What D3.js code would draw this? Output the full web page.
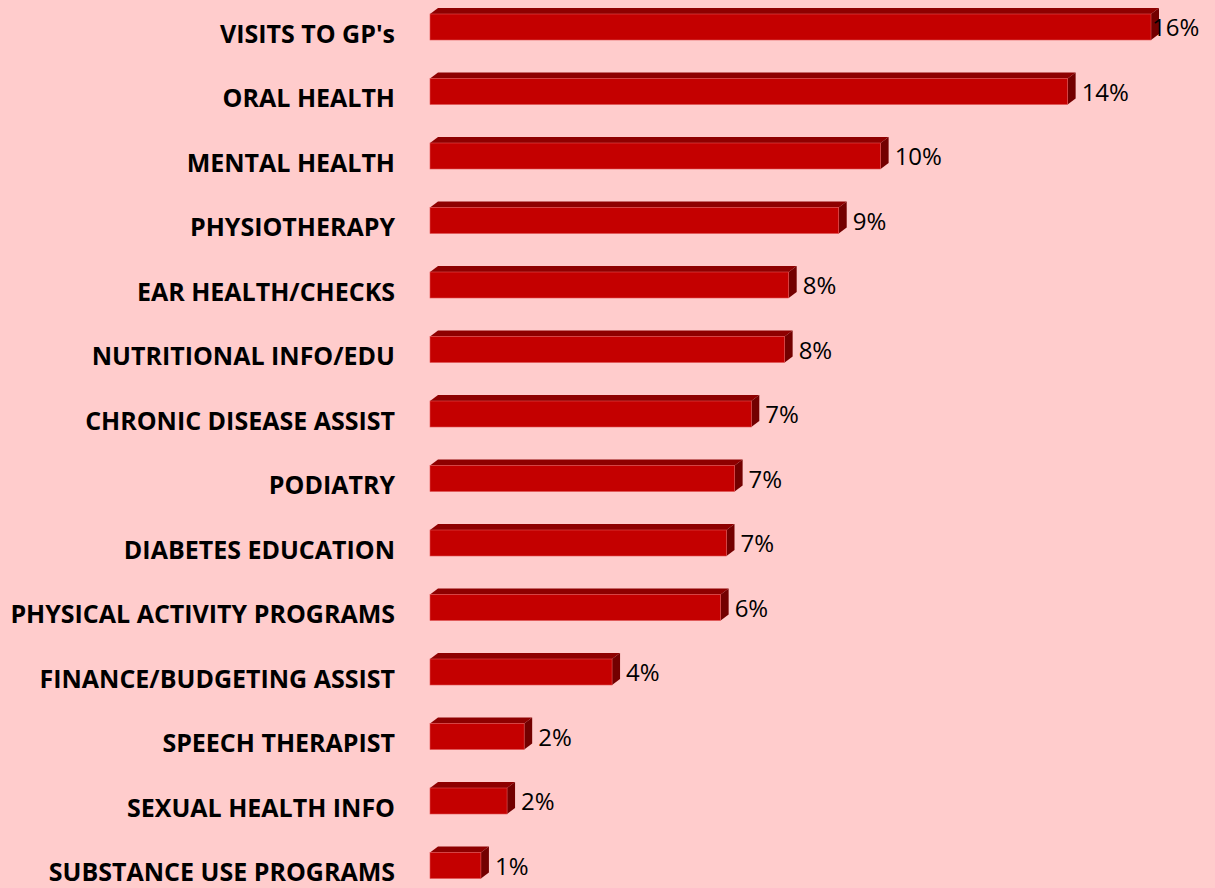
<!DOCTYPE html>
<html>
<head>
<meta charset="utf-8">
<script src="https://cdn.jsdelivr.net/npm/d3@7"></script>
<style>
	body { margin: 0; background: #FFCCCC; }
	svg { display: block; }
</style>
</head>
<body>
<script>
const width = 1215,
	height = 888;

const categories = [
	"VISITS TO GP's", "ORAL HEALTH", "MENTAL HEALTH", "PHYSIOTHERAPY",
	"EAR HEALTH/CHECKS", "NUTRITIONAL INFO/EDU", "CHRONIC DISEASE ASSIST",
	"PODIATRY", "DIABETES EDUCATION", "PHYSICAL ACTIVITY PROGRAMS",
	"FINANCE/BUDGETING ASSIST", "SPEECH THERAPIST", "SEXUAL HEALTH INFO",
	"SUBSTANCE USE PROGRAMS"
];
const values = [16.0, 14.15, 10.0, 9.07, 7.96, 7.87, 7.13, 6.76, 6.58, 6.45, 4.04, 2.09, 1.71, 1.13];

const depthX = 8, depthY = 6;

let svg = d3.select("body").append("svg")
	.attr("width", width)
	.attr("height", height);

svg.append("rect").attr("width", width).attr("height", height).attr("fill", "#FFCCCC");

let x = d3.scaleLinear().domain([0, 16]).range([430, 1151]);
let y = d3.scaleBand().domain(categories)
	.range([-5.25, 897.75])
	.paddingInner(1 - 26/64.5)
	.paddingOuter((1 - 26/64.5)/2);

let bh = y.bandwidth();

let g = svg.selectAll("g.bar")
	.data(categories.map((c, i) => ({c: c, v: values[i]})))
	.join("g").attr("class", "bar");

// top face
g.append("polygon")
	.attr("points", d => {
		const y0 = y(d.c), x0 = x(0), x1 = x(d.v);
		return [[x0, y0], [x0+depthX, y0-depthY], [x1+depthX, y0-depthY], [x1, y0]].join(" ");
	})
	.attr("fill", "#8E0000");

// side face
g.append("polygon")
	.attr("points", d => {
		const y0 = y(d.c), x1 = x(d.v);
		return [[x1, y0], [x1+depthX, y0-depthY], [x1+depthX, y0+bh-depthY], [x1, y0+bh]].join(" ");
	})
	.attr("fill", "#730000");

// front face
g.append("rect")
	.attr("x", x(0))
	.attr("y", d => y(d.c))
	.attr("width", d => x(d.v) - x(0))
	.attr("height", bh)
	.attr("fill", "#C40000")
	.attr("stroke", "#E05050")
	.attr("stroke-width", 0.6);

// category labels
g.append("text")
	.attr("x", 395)
	.attr("y", d => y(d.c) + bh/2 + 7)
	.attr("dy", "0.35em")
	.attr("text-anchor", "end")
	.style("font-family", "'Open Sans', sans-serif")
	.style("font-weight", "bold")
	.style("font-size", "25px")
	.attr("fill", "#000")
	.text(d => d.c);

// value labels (pushed back inside the plot at the right edge)
g.append("text")
	.attr("x", d => Math.min(x(d.v) + 14, 1152))
	.attr("y", d => y(d.c) + bh/2 + 1)
	.attr("dy", "0.35em")
	.style("font-family", "'Open Sans', sans-serif")
	.style("font-size", "24px")
	.attr("fill", "#000")
	.text(d => Math.round(d.v) + "%");
</script>
</body>
</html>
